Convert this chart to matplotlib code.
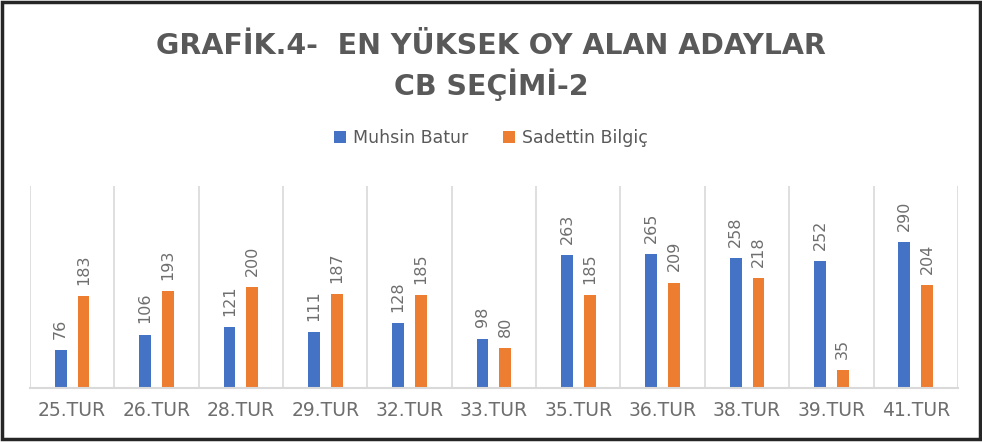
import matplotlib.pyplot as plt
import numpy as np
from matplotlib.patches import Rectangle

# Veriler
turlar = ["25.TUR", "26.TUR", "28.TUR", "29.TUR", "32.TUR", "33.TUR",
          "35.TUR", "36.TUR", "38.TUR", "39.TUR", "41.TUR"]
muhsin_batur = [76, 106, 121, 111, 128, 98, 263, 265, 258, 252, 290]
sadettin_bilgic = [183, 193, 200, 187, 185, 80, 185, 209, 218, 35, 204]

BLUE = "#4472C4"
ORANGE = "#ED7D31"
GRAY = "#595959"
LGRAY = "#6E6E6E"
GRID = "#D9D9D9"

fig = plt.figure(figsize=(9.82, 4.42), dpi=100)
ax = fig.add_axes([0.0305, 0.122, 0.945, 0.457])

x = np.arange(len(turlar))
w = 0.14
b1 = ax.bar(x - 0.135, muhsin_batur, w, color=BLUE, label="Muhsin Batur")
b2 = ax.bar(x + 0.135, sadettin_bilgic, w, color=ORANGE, label="Sadettin Bilgiç")

for bars in (b1, b2):
    for rect in bars:
        ax.annotate(f"{int(rect.get_height())}",
                    (rect.get_x() + rect.get_width() / 2, rect.get_height()),
                    xytext=(0, 8), textcoords="offset points",
                    rotation=90, ha="center", va="bottom",
                    fontsize=11.5, color=LGRAY)

ax.set_xlim(-0.5, len(turlar) - 0.5)
ax.set_ylim(0, 400)
ax.set_yticks([])

# ayirici dikey cizgiler
for b in np.arange(-0.5, len(turlar), 1.0):
    ax.axvline(b, color=GRID, lw=1.2, zorder=0)

for s in ["top", "right", "left"]:
    ax.spines[s].set_visible(False)
ax.spines["bottom"].set_color(GRID)
ax.spines["bottom"].set_linewidth(1.5)

ax.set_xticks(x)
ax.set_xticklabels(turlar, fontsize=13.5, color=LGRAY)
ax.tick_params(axis="x", length=0, pad=9)

fig.text(0.5, 0.895, "GRAFİK.4-  EN YÜKSEK OY ALAN ADAYLAR", ha="center", va="center",
         fontsize=20.5, fontweight="bold", color=GRAY)
fig.text(0.5, 0.808, "CB SEÇİMİ-2", ha="center", va="center",
         fontsize=20.5, fontweight="bold", color=GRAY)

fig.legend(loc="center", bbox_to_anchor=(0.5, 0.688), ncol=2, frameon=False,
           fontsize=12.5, labelcolor=GRAY, handlelength=0.7, handleheight=0.7,
           handletextpad=0.4, columnspacing=2.0)

# dis cerceve
fig.patches.append(Rectangle((0.002, 0.006), 0.996, 0.99, transform=fig.transFigure,
                             fill=False, edgecolor="#262626", lw=2.5))

fig.savefig("out.png", dpi=100, facecolor="white")
